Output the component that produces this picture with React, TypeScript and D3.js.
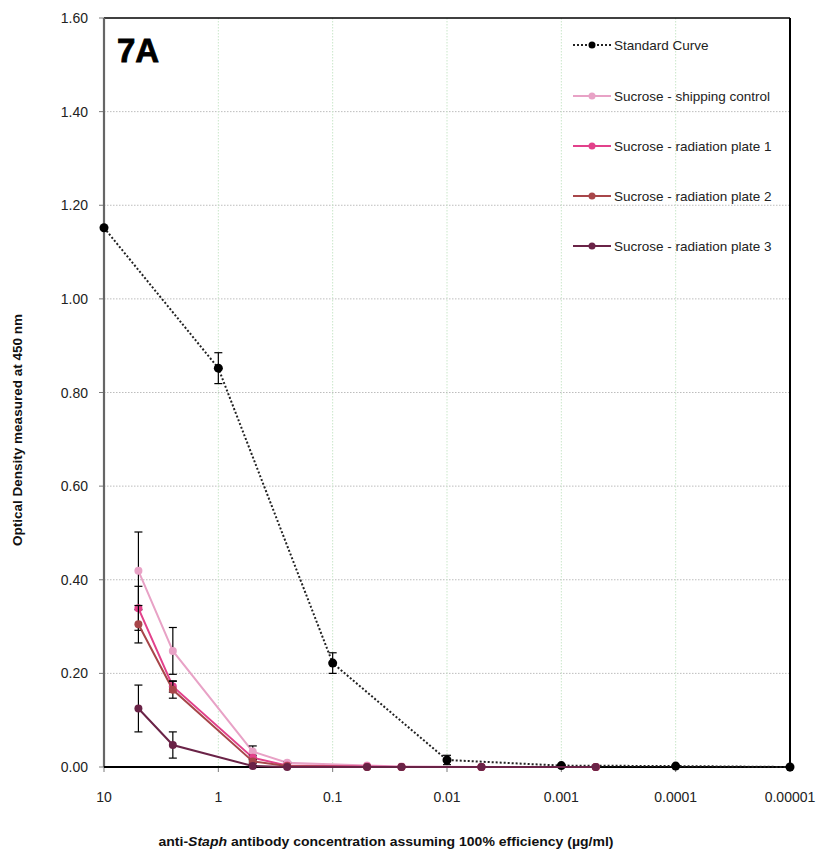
import React from "react";
import * as d3 from "d3";

// Concentrations (µg/ml) on a reversed log axis
const xTicks = [10, 1, 0.1, 0.01, 0.001, 0.0001, 0.00001];
const xTickLabels = ["10", "1", "0.1", "0.01", "0.001", "0.0001", "0.00001"];
const yTicks = [0, 0.2, 0.4, 0.6, 0.8, 1.0, 1.2, 1.4, 1.6];

const standardX = [10, 1, 0.1, 0.01, 0.001, 0.0001, 0.00001];
const standardY = [1.152, 0.852, 0.222, 0.015, 0.003, 0.002, 0.0];
const standardErr = [0, 0.033, 0.022, 0.01, 0, 0, 0];

const sucroseX = [5, 2.5, 0.5, 0.25, 0.05, 0.025, 0.005, 0.0005];
const shippingY = [0.419, 0.248, 0.033, 0.009, 0.003, 0.001, 0, 0];
const shippingErr = [0.083, 0.05, 0.012, 0.002, 0, 0, 0, 0];
const plate1Y = [0.339, 0.172, 0.02, 0.003, 0.001, 0, 0, 0];
const plate1Err = [0.047, 0.012, 0.005, 0, 0, 0, 0, 0];
const plate2Y = [0.305, 0.165, 0.012, 0.002, 0, 0, 0, 0];
const plate2Err = [0.04, 0.018, 0.004, 0, 0, 0, 0, 0];
const plate3Y = [0.125, 0.047, 0.002, 0, 0, 0, 0, 0];
const plate3Err = [0.05, 0.028, 0.001, 0, 0, 0, 0, 0];

const seriesNames = [
  "Standard Curve",
  "Sucrose - shipping control",
  "Sucrose - radiation plate 1",
  "Sucrose - radiation plate 2",
  "Sucrose - radiation plate 3",
];
const seriesColors = ["#000000", "#E8A2C6", "#E2418B", "#A8464A", "#6A2347"];

const W = 819;
const H = 856;
const left = 104;
const right = 790;
const top = 18;
const bottom = 767;
const font = "'Liberation Sans', Arial, sans-serif";

export default function App() {
  const x = d3.scaleLog().domain([10, 0.00001]).range([left, right]);
  const y = d3.scaleLinear().domain([0, 1.6]).range([bottom, top]);

  const series = [
    { xs: standardX, ys: standardY, err: standardErr, dotted: true, r: 4.5 },
    { xs: sucroseX, ys: shippingY, err: shippingErr, dotted: false, r: 4 },
    { xs: sucroseX, ys: plate1Y, err: plate1Err, dotted: false, r: 4 },
    { xs: sucroseX, ys: plate2Y, err: plate2Err, dotted: false, r: 4 },
    { xs: sucroseX, ys: plate3Y, err: plate3Err, dotted: false, r: 4 },
  ];

  const line = d3
    .line<[number, number]>()
    .x((d) => x(d[0]))
    .y((d) => y(d[1]));

  const legendY = [45, 96, 146, 196, 246];

  return (
    <svg width={W} height={H} style={{ position: "absolute", left: 0, top: 0 }}>
      <rect x={0} y={0} width={W} height={H} fill="#fff" />

      {/* horizontal gridlines */}
      {yTicks.slice(1, -1).map((t) => (
        <line
          key={"hg" + t}
          x1={left}
          x2={right}
          y1={y(t)}
          y2={y(t)}
          stroke="#BDBDBD"
          strokeWidth={1}
          strokeDasharray="1.5,1.5"
        />
      ))}
      {/* vertical gridlines */}
      {xTicks.slice(1, -1).map((t) => (
        <line
          key={"vg" + t}
          x1={x(t)}
          x2={x(t)}
          y1={top}
          y2={bottom}
          stroke="#C9E6C9"
          strokeWidth={1}
          strokeDasharray="1.5,1.5"
        />
      ))}

      {/* frame */}
      <line x1={left} x2={right} y1={top} y2={top} stroke="#000" strokeWidth={1.5} />
      <line x1={right} x2={right} y1={top} y2={bottom} stroke="#000" strokeWidth={2} />

      {/* y ticks and labels */}
      {yTicks.map((t) => (
        <g key={"yt" + t}>
          <line x1={left - 5} x2={left} y1={y(t)} y2={y(t)} stroke="#7A7A7A" strokeWidth={1} />
          <text
            x={88}
            y={y(t) + 5}
            textAnchor="end"
            fontFamily={font}
            fontSize={14}
            fill="#222"
          >
            {t.toFixed(2)}
          </text>
        </g>
      ))}
      <line x1={left} x2={left} y1={top} y2={bottom} stroke="#666" strokeWidth={2.2} />

      {/* x ticks and labels */}
      {xTicks.map((t, i) => (
        <g key={"xt" + t}>
          <line x1={x(t)} x2={x(t)} y1={bottom} y2={bottom + 5} stroke="#7A7A7A" strokeWidth={1} />
          <text
            x={x(t)}
            y={802}
            textAnchor="middle"
            fontFamily={font}
            fontSize={14}
            fill="#222"
          >
            {xTickLabels[i]}
          </text>
        </g>
      ))}
      <line x1={left} x2={right} y1={bottom} y2={bottom} stroke="#000" strokeWidth={2} />

      {/* series */}
      {series.map((s, si) => {
        const pts = s.xs.map((v, i) => [v, s.ys[i]] as [number, number]);
        const c = seriesColors[si];
        return (
          <g key={"s" + si}>
            <path
              d={line(pts) || ""}
              fill="none"
              stroke={si === 0 ? "#222" : c}
              strokeWidth={2}
              strokeDasharray={s.dotted ? "2,2" : undefined}
            />
            {pts.map((p, i) =>
              s.err[i] > 0 ? (
                <g key={"e" + i} stroke="#000" strokeWidth={1.2}>
                  <line x1={x(p[0])} x2={x(p[0])} y1={y(p[1] + s.err[i])} y2={y(p[1] - s.err[i])} />
                  <line x1={x(p[0]) - 4} x2={x(p[0]) + 4} y1={y(p[1] + s.err[i])} y2={y(p[1] + s.err[i])} />
                  <line x1={x(p[0]) - 4} x2={x(p[0]) + 4} y1={y(p[1] - s.err[i])} y2={y(p[1] - s.err[i])} />
                </g>
              ) : null
            )}
            {pts.map((p, i) => (
              <circle key={"c" + i} cx={x(p[0])} cy={y(p[1])} r={s.r} fill={c} />
            ))}
          </g>
        );
      })}

      {/* legend */}
      {seriesNames.map((n, i) => (
        <g key={"lg" + i}>
          <line
            x1={573}
            x2={611}
            y1={legendY[i]}
            y2={legendY[i]}
            stroke={i === 0 ? "#222" : seriesColors[i]}
            strokeWidth={2}
            strokeDasharray={i === 0 ? "2,2" : undefined}
          />
          <circle cx={592} cy={legendY[i]} r={3.5} fill={seriesColors[i]} />
          <text
            x={614}
            y={legendY[i] + 5}
            fontFamily={font}
            fontSize={13.5}
            fill="#222"
          >
            {n}
          </text>
        </g>
      ))}

      {/* panel label */}
      <text
        x={117}
        y={62}
        fontFamily={font}
        fontWeight="bold"
        fontSize={33}
        fill="#000"
        stroke="#000"
        strokeWidth={0.8}
      >
        7A
      </text>

      {/* axis titles */}
      <text
        x={386}
        y={846}
        textAnchor="middle"
        fontFamily={font}
        fontWeight="bold"
        fontSize={13.5}
        textLength={455}
        lengthAdjust="spacingAndGlyphs"
        fill="#111"
      >
        anti-<tspan fontStyle="italic">Staph</tspan> antibody concentration assuming 100% efficiency (µg/ml)
      </text>
      <text
        transform={`translate(22, 430) rotate(-90)`}
        textAnchor="middle"
        fontFamily={font}
        fontWeight="bold"
        fontSize={13.5}
        fill="#111"
      >
        Optical Density measured at 450 nm
      </text>
    </svg>
  );
}
